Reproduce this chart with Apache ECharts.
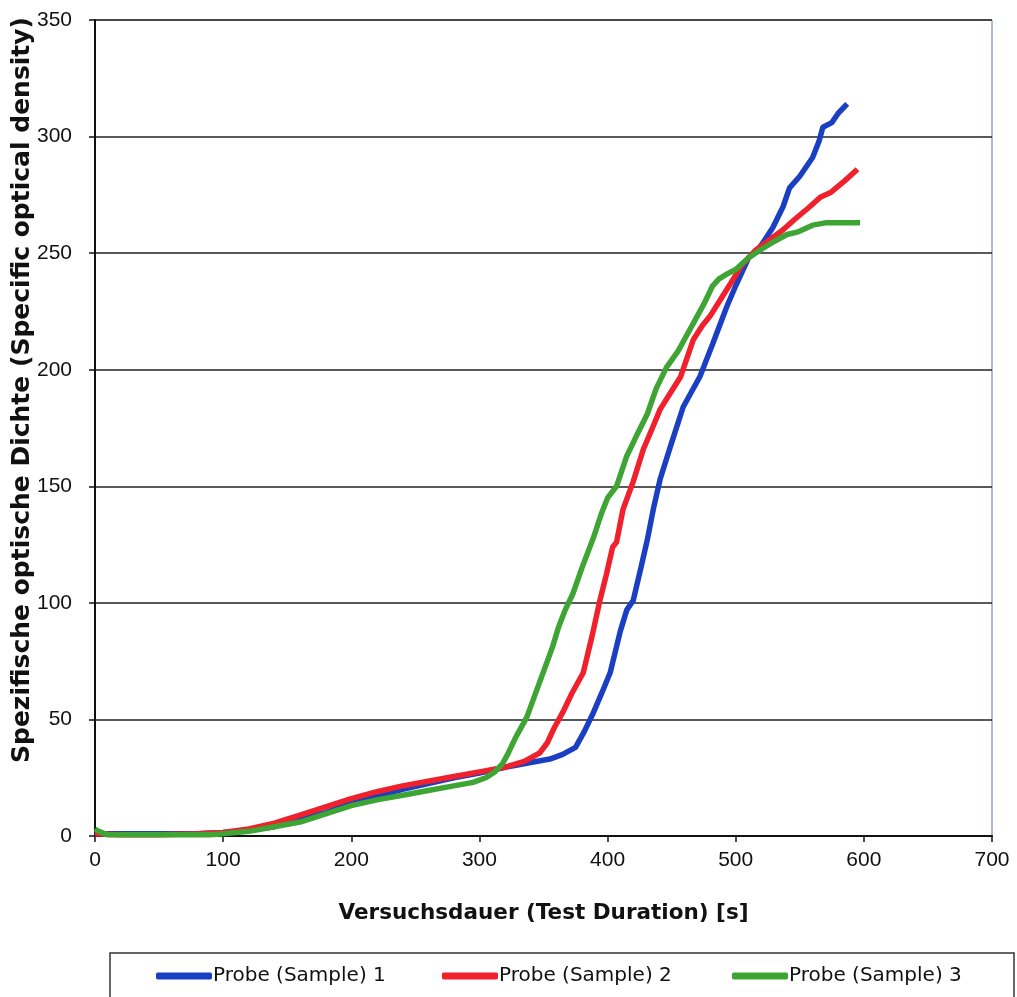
<!DOCTYPE html>
<html>
<head>
<meta charset="utf-8">
<script src="https://cdn.jsdelivr.net/npm/echarts@6/dist/echarts.min.js"></script>
<style>
  html, body { margin: 0; padding: 0; background: #fff; }
  #chart { width: 1017px; height: 997px; }
</style>
</head>
<body>
<div id="chart"></div>
<script>
// ---- Data ----
const seriesNames = ['Probe (Sample) 1', 'Probe (Sample) 2', 'Probe (Sample) 3'];

const s1x = [0, 5, 20, 50, 80, 100, 120, 140, 160, 180, 200, 220, 240, 260, 280, 300, 320, 340, 355, 365, 375, 382, 389, 396, 402, 410, 415, 420, 426, 431, 436, 441, 449, 459, 465, 472, 482, 493, 500, 510, 517, 523, 529, 537, 542, 550, 560, 565, 568, 575, 580, 587];
const s1y = [2, 1, 1, 1, 1, 1.5, 2.5, 4, 7, 10, 14, 17, 20, 22.5, 25, 27, 29.5, 31.5, 33, 35, 38, 45, 53, 62, 70, 88, 97, 101, 115, 127, 141, 153, 167, 184, 190, 197, 211, 227, 236, 248, 251, 256, 261, 270, 278, 283, 291, 298, 304, 306, 310, 314];

const s2x = [0, 20, 50, 80, 100, 120, 140, 160, 180, 200, 220, 240, 260, 280, 300, 320, 335, 347, 353, 358, 365, 372, 381, 388, 394, 399, 404, 407, 412, 420, 428, 435, 441, 449, 457, 467, 474, 480, 488, 496, 505, 515, 527, 537, 545, 558, 566, 574, 585, 595];
const s2y = [1, 0.5, 0.5, 1, 1.5, 3, 5.5, 9, 12.5, 16, 19, 21.5, 23.5, 25.5, 27.5, 29.5, 32, 35.6, 40, 46, 53, 61, 70, 86, 101, 112, 124, 126, 140, 152, 166, 175, 183, 190, 197, 213, 219, 223, 230, 237, 245, 251, 256, 260, 264, 270, 274, 276, 281, 286];

const s3x = [0, 3, 10, 50, 90, 100, 120, 140, 160, 180, 200, 220, 240, 260, 280, 295, 305, 312, 318, 322, 328, 337, 345, 353, 357, 362, 367, 373, 380, 389, 395, 400, 407, 415, 422, 431, 438, 446, 455, 462, 467, 475, 482, 487, 493, 500, 510, 521, 530, 540, 548, 560, 570, 580, 590, 597];
const s3y = [3, 2, 0.5, 0.5, 0.5, 1, 2, 4, 6, 9.5, 13, 15.5, 17.5, 19.5, 21.5, 23, 25, 27.5, 31, 35, 42, 51, 63, 75, 81, 90, 97, 104, 115, 128, 138, 145, 150, 163, 171, 181, 192, 201, 208, 215, 220, 228, 236, 239, 241, 243, 248, 252, 255, 258, 259, 262, 263, 263, 263, 263];

const xTitle = 'Versuchsdauer (Test Duration) [s]';
const yTitle = 'Spezifische optische Dichte (Specific optical density)';

const colors = ['#1b3fc2', '#f0202c', '#3ea535'];

function pairs(xs, ys) { return xs.map((x, i) => [x, ys[i]]); }

const chart = echarts.init(document.getElementById('chart'), null, { renderer: 'canvas' });

const tickFont = '"Liberation Sans", Arial, sans-serif';
const wideFont = '"DejaVu Sans", sans-serif';
const legendLefts = [151, 437, 727];

const option = {
  backgroundColor: '#ffffff',
  animation: false,
  graphic: [{
    type: 'rect',
    shape: { x: 110, y: 953, width: 904, height: 50 },
    style: { fill: 'none', stroke: '#333', lineWidth: 1.5 },
    z: 0
  }],
  grid: {
    left: 95, right: 25, top: 20, bottom: 161,
    containLabel: false,
    outerBoundsMode: 'none',
    show: true, borderColor: '#5a78a8', borderWidth: 1, backgroundColor: 'transparent'
  },
  legend: seriesNames.map((n, i) => ({
    data: [n],
    left: legendLefts[i],
    top: 961,
    icon: 'roundRect',
    itemWidth: 56,
    itemHeight: 7,
    itemGap: 0,
    textStyle: { fontSize: 20, color: '#111', fontFamily: wideFont, padding: [0, 0, 0, -4] }
  })),
  xAxis: {
    type: 'value', min: 0, max: 700, interval: 100,
    name: xTitle, nameLocation: 'middle', nameGap: 66, nameMoveOverlap: false,
    nameTextStyle: { fontSize: 21.5, fontWeight: 'bold', color: '#111', fontFamily: wideFont },
    axisLine: { show: true, lineStyle: { color: '#111', width: 2 } },
    axisTick: { show: true, length: 6, lineStyle: { color: '#111', width: 1.5 } },
    axisLabel: { fontSize: 21, color: '#111', margin: 14, fontFamily: tickFont },
    splitLine: { show: false }
  },
  yAxis: {
    type: 'value', min: 0, max: 350, interval: 50,
    name: yTitle, nameLocation: 'middle', nameGap: 60, nameMoveOverlap: false,
    nameTextStyle: { fontSize: 25, fontWeight: 'bold', color: '#111', fontFamily: wideFont, padding: [0, 0, 0, 76] },
    axisLine: { show: true, lineStyle: { color: '#111', width: 2 } },
    axisTick: { show: true, length: 6, lineStyle: { color: '#111', width: 1.5 } },
    axisLabel: { fontSize: 21, color: '#111', margin: 23, fontFamily: tickFont },
    splitLine: { show: true, lineStyle: { color: '#222', width: 1.5 } }
  },
  series: [
    { name: seriesNames[0], type: 'line', data: pairs(s1x, s1y), showSymbol: false, symbol: 'none',
      lineStyle: { color: colors[0], width: 5.5 }, itemStyle: { color: colors[0] }, z: 2 },
    { name: seriesNames[1], type: 'line', data: pairs(s2x, s2y), showSymbol: false, symbol: 'none',
      lineStyle: { color: colors[1], width: 5.5 }, itemStyle: { color: colors[1] }, z: 3 },
    { name: seriesNames[2], type: 'line', data: pairs(s3x, s3y), showSymbol: false, symbol: 'none',
      lineStyle: { color: colors[2], width: 5.5 }, itemStyle: { color: colors[2] }, z: 4 }
  ]
};

chart.setOption(option);
</script>
</body>
</html>
